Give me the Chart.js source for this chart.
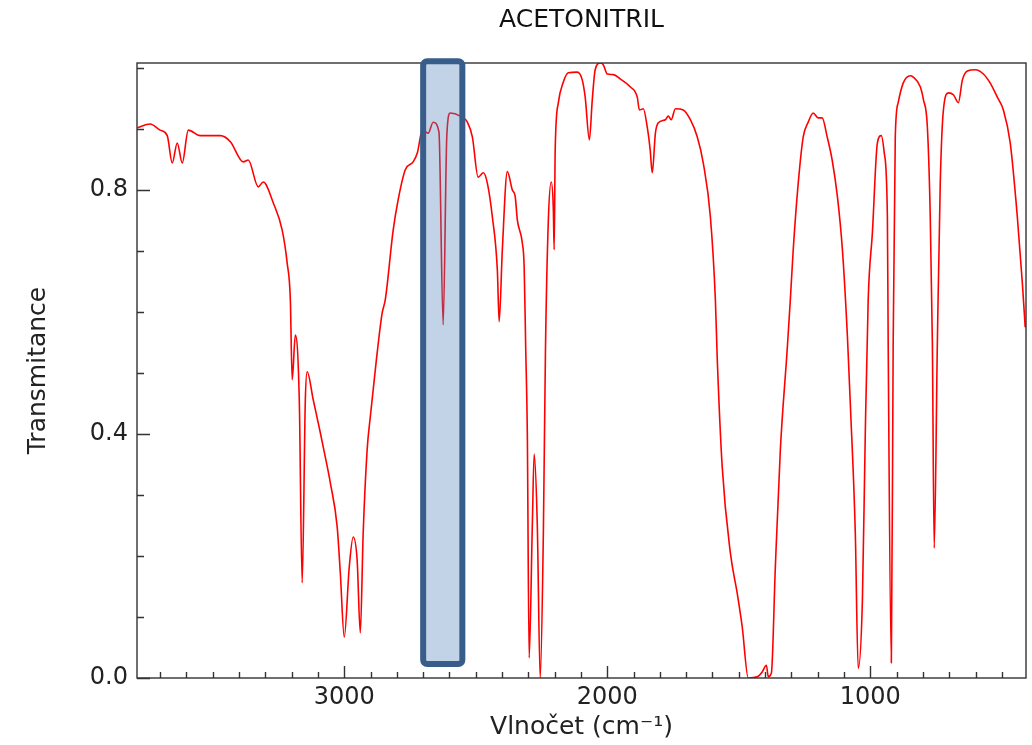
<!DOCTYPE html>
<html>
<head>
<meta charset="utf-8">
<script src="https://cdn.jsdelivr.net/npm/chart.js@4/dist/chart.umd.min.js"></script>
<style>
  body { margin: 0; background: #fff; }
</style>
</head>
<body>
<canvas id="spektrum" width="1032" height="745"></canvas>
<script>
// IR spektrum acetonitrilu
const vlnocet = [
  3787, 3738, 3700, 3673, 3654, 3635, 3616, 3593, 3548, 3471, 3433, 3384, 3365, 3327, 3308, 3270,
  3236, 3217, 3205, 3198, 3186, 3171, 3160, 3148, 3141, 3118, 3091, 3072, 3053, 3027, 3015, 3000,
  2981, 2966, 2951, 2939, 2928, 2913, 2901, 2878, 2856, 2844, 2814, 2795, 2768, 2738, 2722, 2703,
  2681, 2662, 2640, 2624, 2610, 2597, 2559, 2532, 2513, 2491, 2471, 2456, 2437, 2418, 2411, 2399,
  2380, 2361, 2350, 2342, 2323, 2316, 2310, 2304, 2297, 2285, 2278, 2266, 2255, 2243, 2235, 2224,
  2213, 2205, 2202, 2198, 2186, 2167, 2148, 2114, 2095, 2084, 2068, 2057, 2046, 2027, 2015, 2000,
  1977, 1951, 1913, 1886, 1878, 1863, 1848, 1837, 1829, 1817, 1806, 1779, 1768, 1757, 1741, 1711,
  1684, 1658, 1635, 1608, 1589, 1582, 1563, 1532, 1506, 1487, 1464, 1430, 1411, 1395, 1388, 1376,
  1361, 1342, 1316, 1304, 1293, 1274, 1255, 1236, 1217, 1198, 1183, 1164, 1145, 1125, 1106, 1087,
  1076, 1057, 1046, 1030, 1019, 1008, 992, 973, 958, 947, 935, 932, 920, 913, 905, 894,
  875, 848, 837, 810, 798, 783, 772, 764, 757, 745, 734, 722, 703, 684, 665, 650,
  631, 601, 570, 544, 517, 494, 468, 441, 422, 411
];
const transmitance = [
  0.902, 0.908, 0.898, 0.889, 0.844, 0.877, 0.844, 0.898, 0.889, 0.889, 0.879, 0.846, 0.849, 0.805, 0.813, 0.779,
  0.734, 0.680, 0.620, 0.489, 0.562, 0.456, 0.156, 0.456, 0.502, 0.456, 0.402, 0.362, 0.320, 0.248, 0.172, 0.067,
  0.182, 0.231, 0.193, 0.074, 0.238, 0.374, 0.428, 0.521, 0.598, 0.620, 0.734, 0.784, 0.833, 0.846, 0.861, 0.898,
  0.893, 0.911, 0.895, 0.579, 0.890, 0.926, 0.921, 0.911, 0.887, 0.821, 0.828, 0.811, 0.756, 0.669, 0.584, 0.702,
  0.830, 0.800, 0.789, 0.751, 0.713, 0.674, 0.538, 0.402, 0.033, 0.250, 0.367, 0.250, 0.000, 0.238, 0.538, 0.751,
  0.813, 0.767, 0.702, 0.866, 0.943, 0.977, 0.992, 0.993, 0.980, 0.952, 0.882, 0.948, 0.997, 1.008, 1.005, 0.990,
  0.989, 0.982, 0.969, 0.952, 0.931, 0.933, 0.903, 0.866, 0.828, 0.893, 0.910, 0.915, 0.921, 0.915, 0.933, 0.931,
  0.915, 0.887, 0.844, 0.756, 0.620, 0.525, 0.346, 0.205, 0.139, 0.084, 0.000, 0.002, 0.010, 0.021, 0.002, 0.008,
  0.182, 0.374, 0.538, 0.620, 0.702, 0.811, 0.887, 0.911, 0.926, 0.918, 0.918, 0.887, 0.849, 0.789, 0.702, 0.560,
  0.450, 0.238, 0.016, 0.128, 0.402, 0.620, 0.730, 0.877, 0.889, 0.861, 0.756, 0.550, 0.025, 0.550, 0.887, 0.943,
  0.975, 0.987, 0.985, 0.969, 0.948, 0.903, 0.756, 0.550, 0.213, 0.550, 0.811, 0.931, 0.959, 0.956, 0.943, 0.980,
  0.995, 0.997, 0.990, 0.975, 0.952, 0.931, 0.877, 0.756, 0.648, 0.575
];

const popiskyX = [3000, 2000, 1000];
const popiskyY = [0.0, 0.4, 0.8];

// zvýrazněná oblast (cm-1) a její svislý rozsah
const oblastOd = 2700;
const oblastDo = 2551;
const oblastHore = 1.011;
const oblastDole = 0.023;

const pismo = 'DejaVu Sans';

// rámeček grafu, dovnitř mířící značky a modrý obdélník
const ramecek = {
    id: 'ramecek',
    afterDatasetsDraw(chart) {
        const ctx = chart.ctx;
        const a = chart.chartArea;
        const x = chart.scales.x;
        const y = chart.scales.y;
        ctx.save();
        ctx.strokeStyle = '#333';
        ctx.lineWidth = 1.4;
        ctx.strokeRect(a.left, a.top, a.right - a.left, a.bottom - a.top);

        ctx.beginPath();
        for (let v = 500; v <= 3700; v += 100) {
            const px = Math.round(x.getPixelForValue(v)) + 0.5;
            const delka = v % 1000 === 0 ? 12 : 6;
            ctx.moveTo(px, a.bottom);
            ctx.lineTo(px, a.bottom - delka);
        }
        for (let i = 0; i <= 10; i++) {
            const py = Math.round(y.getPixelForValue(i / 10)) + 0.5;
            const delka = i % 4 === 0 ? 13 : 7;
            ctx.moveTo(a.left, py);
            ctx.lineTo(a.left + delka, py);
        }
        ctx.stroke();

        const x1 = x.getPixelForValue(oblastOd);
        const x2 = x.getPixelForValue(oblastDo);
        const y1 = y.getPixelForValue(oblastHore);
        const y2 = y.getPixelForValue(oblastDole);
        ctx.beginPath();
        ctx.roundRect(x1, y1, x2 - x1, y2 - y1, 4);
        ctx.fillStyle = 'rgba(79, 129, 189, 0.35)';
        ctx.fill();
        ctx.lineWidth = 6;
        ctx.strokeStyle = '#385d8a';
        ctx.stroke();
        ctx.restore();
    }
};

const ctx = document.getElementById('spektrum').getContext('2d');
const graf = new Chart(ctx, {
    type: 'line',
    data: {
        datasets: [{
            data: vlnocet.map((v, i) => ({ x: v, y: transmitance[i] })),
            borderColor: '#ff0000',
            borderWidth: 1.6,
            pointRadius: 0,
            cubicInterpolationMode: 'monotone',
            fill: false
        }]
    },
    options: {
        responsive: false,
        devicePixelRatio: 1,
        animation: false,
        layout: { padding: { left: 0, right: 6, top: 0, bottom: 0 } },
        plugins: {
            legend: { display: false },
            tooltip: { enabled: false },
            title: {
                display: true,
                fullSize: false,
                text: 'ACETONITRIL',
                color: '#111',
                font: { family: pismo, size: 25, weight: 'normal' },
                padding: { top: 5, bottom: 28 }
            }
        },
        scales: {
            x: {
                type: 'linear',
                reverse: true,
                min: 408,
                max: 3788,
                grid: { display: false, drawTicks: false },
                border: { display: false },
                afterBuildTicks: s => { s.ticks = popiskyX.map(v => ({ value: v })); },
                afterFit: s => { s.height = 67; },
                ticks: {
                    color: '#222',
                    font: { family: pismo, size: 24 },
                    padding: 5,
                    maxRotation: 0,
                    autoSkip: false,
                    callback: v => String(v)
                },
                title: {
                    display: true,
                    text: 'Vlnočet (cm⁻¹)',
                    color: '#222',
                    font: { family: pismo, size: 25 },
                    padding: { top: 0, bottom: 3 }
                }
            },
            y: {
                type: 'linear',
                min: 0,
                max: 1.008,
                grid: { display: false, drawTicks: false },
                border: { display: false },
                afterBuildTicks: s => { s.ticks = popiskyY.map(v => ({ value: v })); },
                afterFit: s => { s.width = 137; },
                ticks: {
                    color: '#222',
                    font: { family: pismo, size: 24 },
                    padding: 9,
                    autoSkip: false,
                    callback: v => Number(v).toFixed(1)
                },
                title: {
                    display: true,
                    text: 'Transmitance',
                    color: '#222',
                    font: { family: pismo, size: 25 },
                    padding: { top: 23, bottom: 0 }
                }
            }
        }
    },
    plugins: [ramecek]
});
</script>
</body>
</html>
